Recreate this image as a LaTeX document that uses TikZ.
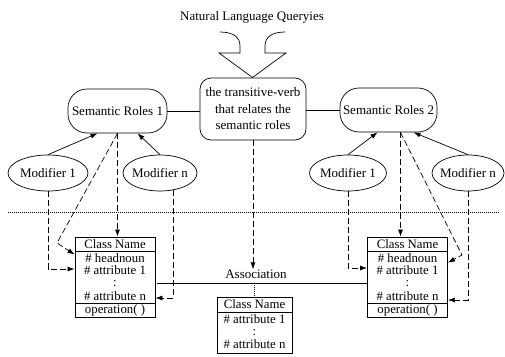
\documentclass[tikz,border=0pt]{standalone}
\usepackage{fontspec}
\setmainfont{Liberation Serif}
\usetikzlibrary{arrows.meta,shapes.geometric,calc}
\begin{document}
\begin{tikzpicture}[x=1pt,y=-1pt, font=\fontsize{13}{15}\selectfont, line width=0.7pt,
  rbox/.style={draw, rounded corners=19pt, inner sep=0pt, minimum width=99pt, minimum height=44pt},
  vbox/.style={draw, rounded corners=11pt, align=center, minimum width=106pt, minimum height=62pt, inner sep=0pt, font=\fontsize{13}{16.5}\selectfont},
  modell/.style={draw, ellipse, inner xsep=-3pt, inner ysep=0pt, minimum height=36pt},
  clsbox/.style={draw, line width=0.9pt, minimum width=80pt, minimum height=80pt, inner sep=0pt},
  ctext/.style={inner sep=0pt, anchor=center, text height=8.5pt, text depth=1pt, font=\fontsize{12.8}{13}\selectfont},
  dsh/.style={dash pattern=on 6pt off 3pt},
  dotl/.style={dash pattern=on 1pt off 1pt},
  arr/.style={-{Latex[length=7pt,width=5pt]}},
]
\useasboundingbox (0,0) rectangle (505,356);

% title and big arrow
\node[inner sep=0pt] (title) at (252,17) {Natural Language Queryies};
\draw (220,32) .. controls (233,32) and (240,37) .. (240,46) -- (240,53) -- (219,53)
      -- (252.5,77.5) -- (286,53) -- (265,53) -- (265,46) .. controls (265,37) and (272,32) .. (285,32);

% top nodes
\node[vbox] (verb) at (253,109) {the transitive-verb\\that relates the\\semantic roles};
\node[rbox] (sr1) at (117.5,111) {Semantic Roles 1};
\node[rbox, minimum width=97pt] (sr2) at (388.5,110) {Semantic Roles 2};
\draw (sr1.east) -- (sr1.east -| verb.west);
\draw (sr2.west) -- (sr2.west -| verb.east);

% modifiers
\node[modell, minimum width=80pt] (m1L) at (48,173) {Modifier 1};
\node[modell, minimum width=74pt] (mnL) at (160,173) {Modifier n};
\node[modell, minimum width=77pt] (m1R) at (348,173) {Modifier 1};
\node[modell, minimum width=72pt] (mnR) at (468,173) {Modifier n};

\draw[arr] (m1L.north) -- ([xshift=-20pt]sr1.south);
\draw[arr] (mnL.north) -- ([xshift=20pt]sr1.south);
\draw[arr] (m1R.north) -- ([xshift=-11pt]sr2.south);
\draw[arr] (mnR.north) -- ([xshift=25pt]sr2.south);

% separator
\coordinate (dl) at (8,212);
\coordinate (dr) at (500,212);
\draw[dotl] (dl) -- (dr);

% class boxes
\node[clsbox] (cls1) at (115,277) {};
\node[clsbox] (cls2) at (407.5,277) {};
\foreach \c in {cls1,cls2}{
  \draw[line width=0.9pt] ([yshift=-15pt]\c.north west) -- ([yshift=-15pt]\c.north east);
  \draw[line width=1.3pt] ([yshift=14pt]\c.south west) -- ([yshift=14pt]\c.south east);
}
\node[ctext] (c1a) at (115,244.5) {Class Name};
\node[ctext] (c1b) at (115,258.5) {\# headnoun};
\node[ctext] (c1c) at (115,271) {\# attribute 1};
\node[ctext, text height=5pt, text depth=0pt] (c1d) at (115,284) {:};
\node[ctext] (c1e) at (115,297) {\# attribute n};
\node[ctext] (c1f) at (115,310) {operation( )};
\node[ctext] (c2a) at (407.5,244.5) {Class Name};
\node[ctext] (c2b) at (407.5,258.5) {\# headnoun};
\node[ctext] (c2c) at (407.5,271) {\# attribute 1};
\node[ctext, text height=5pt, text depth=0pt] (c2d) at (407.5,284) {:};
\node[ctext] (c2e) at (407.5,297) {\# attribute n};
\node[ctext] (c2f) at (407.5,310) {operation( )};

% association
\node[inner sep=0pt] (assoc) at (256,274) {Association};
\coordinate (al) at ([yshift=-6pt]cls1.east);
\draw ([xshift=2pt]al) -- (al -| cls2.west);
\node[clsbox, minimum width=75pt, minimum height=56pt] (cls3) at (254.5,325) {};
\draw[line width=0.9pt] ([yshift=-16pt]cls3.north west) -- ([yshift=-16pt]cls3.north east);
\node[ctext] (c3a) at (254.5,305) {Class Name};
\node[ctext] (c3b) at (254.5,320) {\# attribute 1};
\node[ctext, text height=5pt, text depth=0pt] (c3c) at (254.5,333) {:};
\node[ctext] (c3d) at (254.5,345) {\# attribute n};
\draw[dotl] (al -| cls3.north) -- (cls3.north);
\draw[dsh, arr] (verb.south) -- (verb.south |- assoc.north);

% dashed mappings, left
\coordinate (b1) at (57,243);
\draw[dsh, arr] (sr1.south) -- (sr1.south |- cls1.north);
\draw[dsh, arr] (sr1.south) -- (b1) -- ([yshift=-18pt]cls1.north west);
\draw[dsh, arr] (m1L.south) |- ([yshift=8pt]cls1.west);
\draw[dsh, arr] (mnL.-52) |- ([yshift=-21pt]cls1.east);

% dashed mappings, right
\coordinate (s2) at ([xshift=12pt]sr2.south);
\coordinate (b2) at (462,255);
\draw[dsh, arr] (s2) -- (s2 |- cls2.north);
\draw[dsh, arr] (s2) -- (b2) -- ([yshift=-26pt]cls2.north east);
\draw[dsh, arr] (m1R.south) |- ([yshift=9pt]cls2.west);
\draw[dsh, arr] (mnR.south) |- ([yshift=-23pt]cls2.east);
\end{tikzpicture}
\end{document}
